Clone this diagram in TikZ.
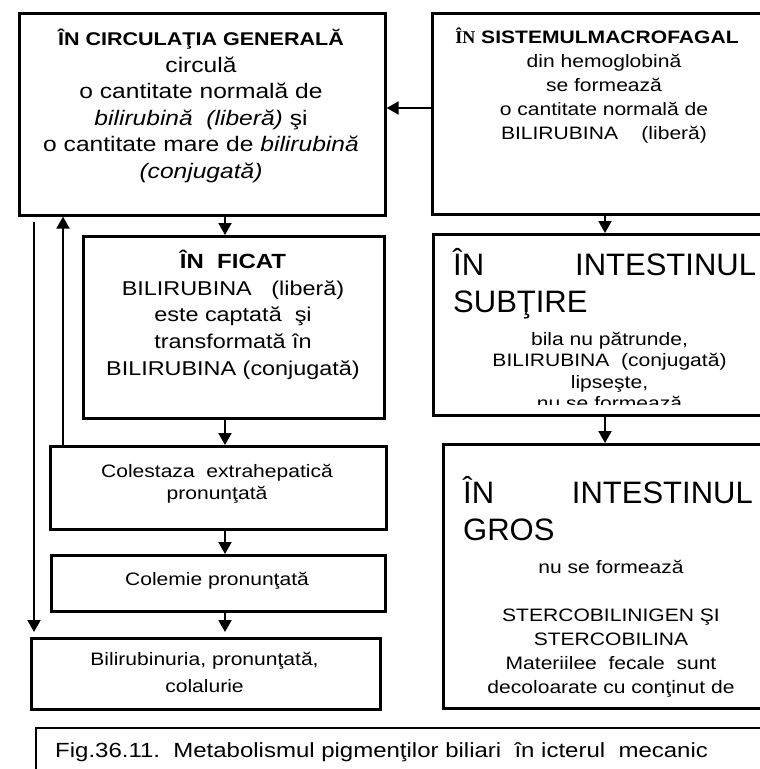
\documentclass[tikz,border=0pt]{standalone}
\usepackage{fontspec}
\usetikzlibrary{arrows.meta}
\setmainfont{Liberation Sans}[FakeStretch=1.17]
\newfontfamily\bigsans{Liberation Sans}
\newfontfamily\serifb{Liberation Serif}
\newcommand{\fs}[2]{\fontsize{#1}{#2}\selectfont}
\newcommand{\ml}[1]{\begin{tabular}[t]{@{}c@{}}#1\end{tabular}}
\begin{document}
\begin{tikzpicture}[x=1pt,y=-1pt,
  box/.style={draw, line width=2.6pt, rectangle, inner sep=0pt, anchor=north west},
  capbox/.style={draw, line width=1.6pt, rectangle, inner sep=0pt, anchor=north west},
  arr/.style={line width=2pt, -{Triangle[length=12pt,width=13pt]}},
  txt/.style={inner sep=0pt, anchor=base},
  bigtxt/.style={inner sep=0pt, font=\bigsans\fs{31}{37}}]
\clip (0,0) rectangle (760,769);
\fill[white] (0,0) rectangle (760,769);
% boxes
\node[box, minimum width=366, minimum height=202] (B1) at (18,12) {};
\node[box, minimum width=344, minimum height=201] (B2) at (431,12) {};
\node[box, minimum width=301, minimum height=182] (B3) at (82,235) {};
\node[box, minimum width=353, minimum height=181] (B4) at (432,233) {};
\node[box, minimum width=336, minimum height=83] (B5) at (49,445) {};
\node[box, minimum width=334, minimum height=56] (B6) at (50,554) {};
\node[box, minimum width=349, minimum height=71] (B7) at (30,637) {};
\node[box, minimum width=339, minimum height=264] (B8) at (442,443) {};
\node[capbox, minimum width=745, minimum height=70] (C) at (35,727) {};
% coordinates for connectors
\coordinate (xa) at (225,0);
\coordinate (xb) at (605,0);
\coordinate (xl) at (34,0);
\coordinate (xu) at (63,0);
\coordinate (ya) at (0,108);
% connectors
\draw[arr] (B2.west |- ya) -- (B1.east |- ya);
\draw[arr] (B1.south -| xa) -- (B3.north -| xa);
\draw[arr] (B2.south -| xb) -- (B4.north -| xb);
\draw[arr] (B4.south -| xb) -- (B8.north -| xb);
\draw[arr] (B3.south -| xa) -- (B5.north -| xa);
\draw[arr] (B5.south -| xa) -- (B6.north -| xa);
\draw[arr, shorten >=5pt] (B6.south -| xa) -- (B7.north -| xa);
\draw[arr, shorten <=5pt, shorten >=5pt] (B1.south -| xl) -- (B7.north -| xl);
\draw[arr] (B5.north -| xu) -- (B1.south -| xu);
% texts box 1
\node[txt, font=\bfseries\fs{18.4}{24}] (t1h) at (201,45) {ÎN CIRCULAŢIA GENERALĂ};
\node[txt, font=\fs{21}{26.5}] (t1b) at (201,72) {\ml{circulă\\o cantitate normală de\\\textit{bilirubină\ \ (liberă)} şi\\o cantitate mare de \textit{bilirubină}\\\textit{(conjugată)}}};
% box 2
\node[txt, font=\bfseries\fs{18}{24}] (t2h) at (597,43) {{\serifb\bfseries ÎN} SISTEMULMACROFAGAL};
\node[txt, font=\fs{18}{24}] (t2b) at (604,67) {\ml{din hemoglobină\\se formează\\o cantitate normală de\\BILIRUBINA\ \ \ \ (liberă)}};
% box 3
\node[txt, font=\bfseries\fs{20.5}{26.8}] (t3h) at (233,268) {ÎN\ \ FICAT};
\node[txt, font=\fs{20}{26.8}] (t3b) at (233,295) {\ml{BILIRUBINA\ \ \ (liberă)\\este captată\ \ şi\\transformată în\\BILIRUBINA (conjugată)}};
% box 4
\begin{scope}
\clip (433,234) rectangle (785,404);
\node[bigtxt, anchor=base west] (t4a) at (453,275) {ÎN};
\node[bigtxt, anchor=base west] (t4b) at (575,275) {INTESTINUL};
\node[bigtxt, anchor=base west] (t4c) at (453,312) {SUBŢIRE};
\node[txt, font=\fs{18}{21.5}] (t4d) at (609.5,345) {\ml{bila nu pătrunde,\\BILIRUBINA\ \ (conjugată)\\lipseşte,\\nu se formează}};
\end{scope}
% box 8
\node[bigtxt, anchor=base west] (t8a) at (463,503) {ÎN};
\node[bigtxt, anchor=base east] (t8b) at (753,503) {INTESTINUL};
\node[bigtxt, anchor=base west] (t8c) at (463,540) {GROS};
\node[txt, font=\fs{18}{24}] (t8d) at (611,573) {\ml{nu se formează\\[24pt]STERCOBILINIGEN ŞI\\STERCOBILINA\\Materiilee\ \ fecale\ \ sunt\\decoloarate cu conţinut de}};
% box 5,6,7
\node[txt, font=\fs{18}{22.5}] (t5) at (217,477) {\ml{Colestaza\ \ extrahepatică\\pronunţată}};
\node[txt, font=\fs{18}{22.5}] (t6) at (217,585) {Colemie pronunţată};
\node[txt, font=\fs{18}{27}] (t7) at (204.5,665) {\ml{Bilirubinuria, pronunţată,\\colalurie}};
% caption
\node[inner sep=0pt, anchor=base west, font=\fs{20.5}{24}] (tc) at (55,757) {Fig.36.11.\ \ Metabolismul pigmenţilor biliari\ \ în icterul\ \ mecanic};
\end{tikzpicture}
\end{document}
